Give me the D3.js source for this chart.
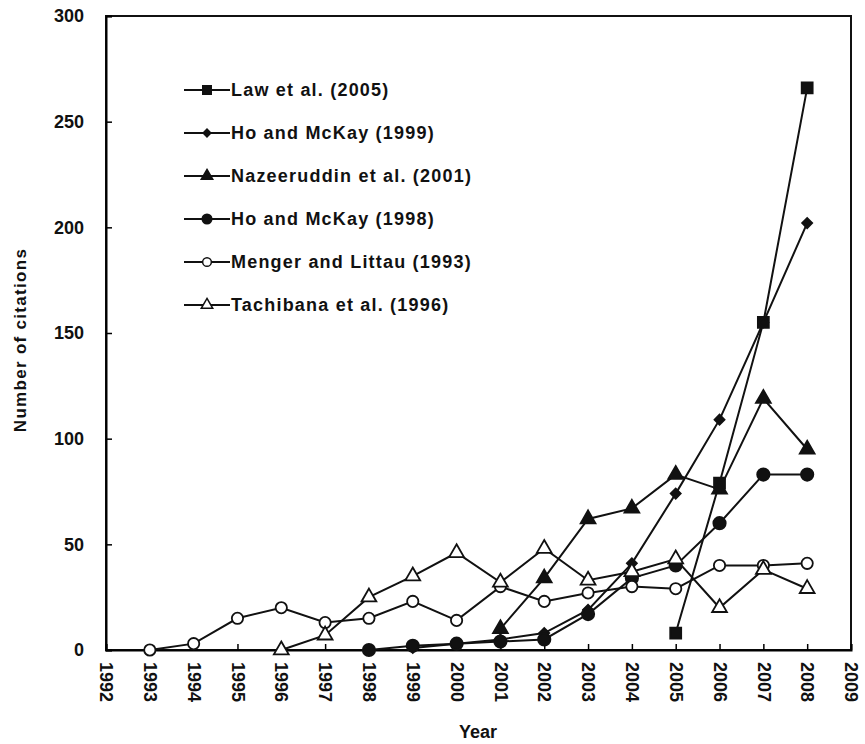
<!DOCTYPE html>
<html><head><meta charset="utf-8">
<script src="https://cdn.jsdelivr.net/npm/d3@7"></script>
<style>body{margin:0;background:#fff}svg{display:block}text{font-family:"Liberation Sans",Arial,sans-serif;fill:#111}</style>
</head><body>
<script>
const years = d3.range(1992, 2010);
const yTicks = [0, 50, 100, 150, 200, 250, 300];
const lawYears = [2005, 2006, 2007, 2008];
const lawVals = [8, 79, 155, 266];
const ho99Years = [1999, 2000, 2001, 2002, 2003, 2004, 2005, 2006, 2007, 2008];
const ho99Vals = [1, 3, 5, 8, 19, 41, 74, 109, 155, 202];
const nazYears = [2001, 2002, 2003, 2004, 2005, 2006, 2007, 2008];
const nazVals = [10, 34, 62, 67, 83, 76, 119, 95];
const ho98Years = [1998, 1999, 2000, 2001, 2002, 2003, 2004, 2005, 2006, 2007, 2008];
const ho98Vals = [0, 2, 3, 4, 5, 17, 34, 40, 60, 83, 83];
const mengerYears = [1993, 1994, 1995, 1996, 1997, 1998, 1999, 2000, 2001, 2002, 2003, 2004, 2005, 2006, 2007, 2008];
const mengerVals = [0, 3, 15, 20, 13, 15, 23, 14, 30, 23, 27, 30, 29, 40, 40, 41];
const tachYears = [1996, 1997, 1998, 1999, 2000, 2001, 2002, 2003, 2004, 2005, 2006, 2007, 2008];
const tachVals = [0, 7, 25, 35, 46, 32, 48, 33, 37, 43, 20, 38, 29];
const seriesNames = ["Law et al. (2005)", "Ho and McKay (1999)", "Nazeeruddin et al. (2001)", "Ho and McKay (1998)", "Menger and Littau (1993)", "Tachibana et al. (1996)"];

const series = [
  {name: seriesNames[0], x: lawYears, y: lawVals, sym: d3.symbolSquare, size: 120, fill: "#111", rot: 0},
  {name: seriesNames[1], x: ho99Years, y: ho99Vals, sym: d3.symbolSquare, size: 50, fill: "#111", rot: 45},
  {name: seriesNames[2], x: nazYears, y: nazVals, sym: d3.symbolTriangle, size: 95, fill: "#111", rot: 0},
  {name: seriesNames[3], x: ho98Years, y: ho98Vals, sym: d3.symbolCircle, size: 120, fill: "#111", rot: 0},
  {name: seriesNames[4], x: mengerYears, y: mengerVals, sym: d3.symbolCircle, size: 100, fill: "#fff", rot: 0},
  {name: seriesNames[5], x: tachYears, y: tachVals, sym: d3.symbolTriangle, size: 95, fill: "#fff", rot: 0}
];

const W = 865, H = 744;
const m = {l: 106, r: 851, t: 16, b: 650};
const svg = d3.select("body").append("svg").attr("width", W).attr("height", H);
const x = d3.scaleLinear().domain([1992, 2009]).range([m.l, m.r]);
const y = d3.scaleLinear().domain([0, 300]).range([m.b, m.t]);

// frame
svg.append("rect").attr("x", m.l).attr("y", m.t).attr("width", m.r - m.l).attr("height", m.b - m.t)
  .attr("fill", "none").attr("stroke", "#111").attr("stroke-width", 2);

// y axis
const ya = svg.append("g").attr("transform", `translate(${m.l},0)`)
  .call(d3.axisLeft(y).tickValues(yTicks).tickSize(-6).tickPadding(22));
ya.select(".domain").attr("stroke-width", 2);
ya.selectAll(".tick line").attr("stroke-width", 1.5);
ya.selectAll("text").attr("font-size", 18).attr("font-weight", "bold").attr("fill", "#111");

// x axis
const xa = svg.append("g").attr("transform", `translate(0,${m.b})`)
  .call(d3.axisBottom(x).tickValues(years).tickFormat(d3.format("d")).tickSize(-6));
xa.select(".domain").attr("stroke-width", 2);
xa.selectAll(".tick line").attr("stroke-width", 1.5);
xa.selectAll("text").attr("font-size", 18).attr("font-weight", "bold").attr("fill", "#111")
  .attr("transform", "rotate(90)").attr("text-anchor", "start").attr("dy", "0.35em").attr("x", 12).attr("y", 0);

svg.append("text").attr("x", 478).attr("y", 738).attr("text-anchor", "middle")
  .attr("font-size", 18).attr("font-weight", "bold").text("Year");
svg.append("text").attr("transform", "translate(26,340) rotate(-90)").attr("text-anchor", "middle")
  .attr("font-size", 17).attr("font-weight", "bold").attr("letter-spacing", 1.3).text("Number of citations");

const line = d3.line().x(d => x(d[0])).y(d => y(d[1]));
series.forEach(s => {
  const pts = s.x.map((v, i) => [v, s.y[i]]);
  svg.append("path").datum(pts).attr("d", line).attr("fill", "none").attr("stroke", "#111").attr("stroke-width", 2);
});
series.forEach(s => {
  const pts = s.x.map((v, i) => [v, s.y[i]]);
  svg.append("g").selectAll("path").data(pts).join("path")
    .attr("transform", d => `translate(${x(d[0])},${y(d[1])}) rotate(${s.rot})`)
    .attr("d", d3.symbol().type(s.sym).size(s.size))
    .attr("fill", s.fill).attr("stroke", "#111").attr("stroke-width", 1.8);
});

// legend
const lg = svg.append("g");
series.forEach((s, i) => {
  const ly = 90 + i * 43;
  lg.append("line").attr("x1", 184).attr("x2", 230).attr("y1", ly).attr("y2", ly).attr("stroke", "#111").attr("stroke-width", 2);
  lg.append("path").attr("transform", `translate(207,${ly}) rotate(${s.rot})`)
    .attr("d", d3.symbol().type(s.sym).size(s.size * 0.6))
    .attr("fill", s.fill).attr("stroke", "#111").attr("stroke-width", 1.5);
  lg.append("text").attr("x", 231).attr("y", ly).attr("dy", "0.35em")
    .attr("font-size", 18).attr("font-weight", "bold").attr("letter-spacing", 1.2).text(s.name);
});
</script>
</body></html>
